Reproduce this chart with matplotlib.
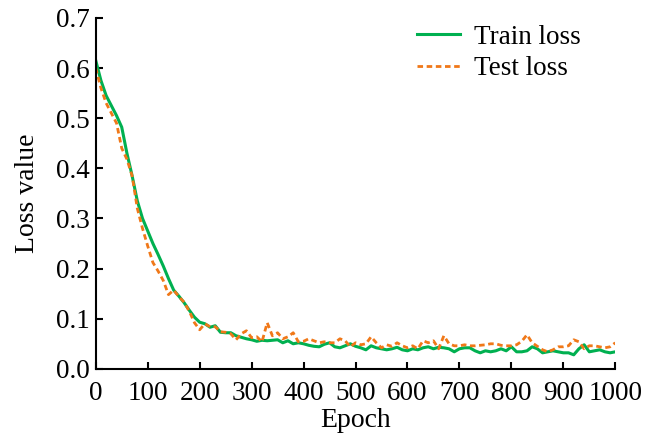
import numpy as np
import matplotlib.pyplot as plt

plt.rcParams['font.family'] = ['Liberation Serif', 'DejaVu Serif']
plt.rcParams['mathtext.fontset'] = 'stix'

# --- data (every 10 epochs) ---
epochs = np.arange(0, 1001, 10)

train_loss = [
    0.615, 0.575, 0.545, 0.525, 0.505, 0.482, 0.430, 0.385, 0.335, 0.300,
    0.275, 0.250, 0.228, 0.205, 0.180, 0.157, 0.145, 0.132, 0.117, 0.103,
    0.093, 0.090, 0.083, 0.086, 0.073, 0.072, 0.072, 0.066, 0.063, 0.060,
    0.058, 0.055, 0.057, 0.056, 0.057, 0.058, 0.052, 0.056, 0.050, 0.052,
    0.050, 0.047, 0.045, 0.044, 0.049, 0.052, 0.044, 0.042, 0.046, 0.050,
    0.045, 0.042, 0.038, 0.046, 0.042, 0.040, 0.038, 0.040, 0.043, 0.038,
    0.036, 0.040, 0.038, 0.042, 0.044, 0.040, 0.043, 0.042, 0.040, 0.034,
    0.040, 0.042, 0.042, 0.036, 0.032, 0.036, 0.034, 0.036, 0.040, 0.036,
    0.044, 0.034, 0.034, 0.036, 0.044, 0.040, 0.032, 0.034, 0.036, 0.034,
    0.032, 0.032, 0.028, 0.040, 0.048, 0.034, 0.036, 0.038, 0.034, 0.032,
    0.034,
]

test_loss = [
    0.600, 0.560, 0.530, 0.510, 0.490, 0.440, 0.418, 0.385, 0.320, 0.280,
    0.245, 0.212, 0.195, 0.176, 0.148, 0.157, 0.144, 0.133, 0.115, 0.092,
    0.078, 0.090, 0.084, 0.084, 0.074, 0.073, 0.070, 0.058, 0.070, 0.076,
    0.062, 0.064, 0.054, 0.092, 0.066, 0.072, 0.060, 0.064, 0.072, 0.054,
    0.055, 0.060, 0.056, 0.052, 0.054, 0.052, 0.052, 0.060, 0.056, 0.044,
    0.052, 0.048, 0.050, 0.064, 0.052, 0.042, 0.048, 0.045, 0.052, 0.046,
    0.042, 0.046, 0.040, 0.056, 0.052, 0.056, 0.040, 0.066, 0.050, 0.046,
    0.046, 0.048, 0.046, 0.046, 0.047, 0.048, 0.050, 0.050, 0.047, 0.046,
    0.046, 0.048, 0.055, 0.068, 0.052, 0.045, 0.038, 0.034, 0.038, 0.044,
    0.044, 0.046, 0.058, 0.054, 0.040, 0.046, 0.046, 0.044, 0.042, 0.044,
    0.052,
]

x_ticks = np.arange(0, 1001, 100)
y_ticks = np.arange(0, 0.71, 0.1)

# --- plot ---
fig = plt.figure(figsize=(6.47, 4.36), dpi=100)
ax = fig.add_axes([0.148, 0.154, 0.803, 0.805])

ax.plot(epochs, train_loss, color='#00b050', linewidth=2.2, label='Train loss')
ax.plot(epochs, test_loss, color='#f07818', linewidth=2,
        linestyle=(0, (2, 1.3)), label='Test loss')

ax.set_xlim(0, 1000)
ax.set_ylim(0, 0.7)
ax.set_xticks(x_ticks)
ax.set_yticks(y_ticks)
ax.set_yticklabels([f"{v:.1f}" for v in y_ticks])
ax.set_xlabel('Epoch', fontsize=20, labelpad=1)
ax.set_ylabel('Loss value', fontsize=20, labelpad=12)

ax.spines['top'].set_visible(False)
ax.spines['right'].set_visible(False)
for s in ('left', 'bottom'):
    ax.spines[s].set_linewidth(1.5)
ax.tick_params(direction='in', length=5, width=1.5, labelsize=19.5)
ax.tick_params(axis='x', pad=9)
ax.tick_params(axis='y', pad=4)

ax.legend(loc='upper right', frameon=False, fontsize=19.5,
          handlelength=1.6, handletextpad=0.5, labelspacing=0.25,
          bbox_to_anchor=(0.98, 1.05))

fig.savefig('out.png', dpi=100)
